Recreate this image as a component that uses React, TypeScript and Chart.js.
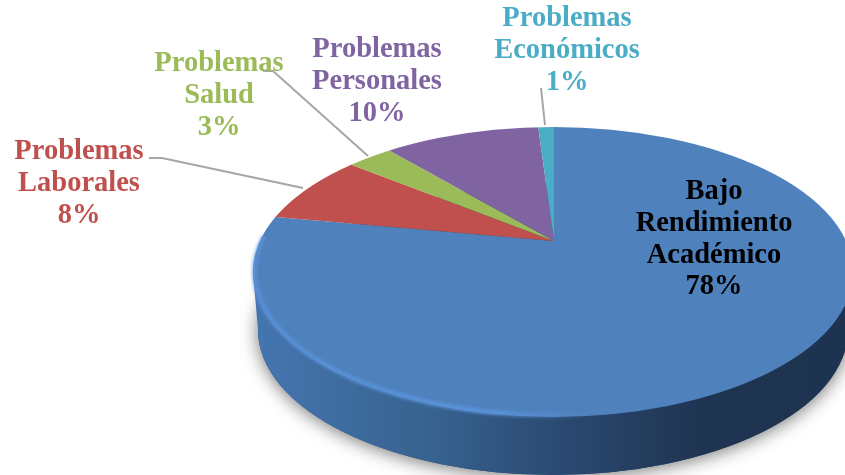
import React, { useEffect, useRef } from "react";
import { Chart, registerables } from "chart.js";

Chart.register(...registerables);

const categories = [
  "Bajo Rendimiento Académico",
  "Problemas Laborales",
  "Problemas Salud",
  "Problemas Personales",
  "Problemas Económicos",
];
const values = [78, 8, 3, 10, 1];
const sliceColors = ["#4f81bd", "#c0504d", "#9bbb59", "#8064a2", "#4bacc6"];
const textColors = ["#000000", "#c0504d", "#9bbb59", "#8064a2", "#4bacc6"];
const labelLines = [
  ["Bajo", "Rendimiento", "Académico"],
  ["Problemas", "Laborales"],
  ["Problemas", "Salud"],
  ["Problemas", "Personales"],
  ["Problemas", "Económicos"],
];
const labelCenterX = [714, 79, 219, 377, 567];
const labelFirstY = [192, 152, 64, 50, 19];
const leaderLines: number[][][] = [
  [],
  [[149, 158], [162, 158], [303, 188]],
  [[263, 71], [273, 71], [368, 156]],
  [],
  [[541, 88], [545, 125]],
];

const APEX = { x: 554, y: 241 };
const TOP = { x: 553, y: 272, rx: 300, ry: 145 };
const BOTTOM = { x: 553, y: 330, rx: 295, ry: 145 };
const SCALE_X = 1.7;
const SCALE_Y = SCALE_X / 2.2;
const LINE_H = 31.6;

const pie3d = {
  id: "pie3d",
  beforeDatasetsDraw(chart: any) {
    const ctx: CanvasRenderingContext2D = chart.ctx;
    const arc = chart.getDatasetMeta(0).data[0];

    // soft shadow around the foot of the disc
    ctx.save();
    ctx.shadowColor = "rgba(0,0,0,0.55)";
    ctx.shadowBlur = 18;
    ctx.shadowOffsetY = 2;
    ctx.fillStyle = "#2c4a73";
    ctx.beginPath();
    ctx.ellipse(BOTTOM.x, BOTTOM.y, BOTTOM.rx, BOTTOM.ry, 0, 0, Math.PI * 2);
    ctx.fill();
    ctx.restore();

    // side wall
    const wall = ctx.createLinearGradient(TOP.x - TOP.rx, 0, TOP.x + TOP.rx, 0);
    wall.addColorStop(0, "#4576b0");
    wall.addColorStop(0.3, "#37628f");
    wall.addColorStop(0.5, "#2b4b74");
    wall.addColorStop(0.75, "#1f3451");
    wall.addColorStop(1, "#1e3350");
    ctx.save();
    ctx.fillStyle = wall;
    ctx.beginPath();
    ctx.ellipse(BOTTOM.x, BOTTOM.y, BOTTOM.rx, BOTTOM.ry, 0, 0, Math.PI);
    ctx.lineTo(TOP.x - TOP.rx, TOP.y);
    ctx.lineTo(TOP.x + TOP.rx, TOP.y);
    ctx.closePath();
    ctx.fill();
    ctx.restore();

    // top face: the library's own arcs, seen in perspective
    ctx.save();
    ctx.beginPath();
    ctx.ellipse(TOP.x, TOP.y, TOP.rx, TOP.ry, 0, 0, Math.PI * 2);
    ctx.clip();
    ctx.translate(APEX.x, APEX.y);
    ctx.scale(SCALE_X, SCALE_Y);
    ctx.translate(-arc.x, -arc.y);
  },
  afterDatasetsDraw(chart: any) {
    const ctx: CanvasRenderingContext2D = chart.ctx;
    ctx.restore();

    // bevel highlight on the lower-left rim
    const rim = ctx.createLinearGradient(TOP.x - TOP.rx, 0, TOP.x + 40, 0);
    rim.addColorStop(0, "rgba(92,150,222,0.7)");
    rim.addColorStop(0.7, "rgba(92,150,222,0.85)");
    rim.addColorStop(1, "rgba(92,150,222,0)");
    ctx.save();
    ctx.filter = "blur(1.5px)";
    ctx.strokeStyle = rim;
    ctx.lineWidth = 5;
    ctx.beginPath();
    ctx.ellipse(TOP.x, TOP.y, TOP.rx - 1.5, TOP.ry - 1.5, 0, Math.PI * 0.42, Math.PI * 1.08);
    ctx.stroke();
    ctx.restore();

    // leader lines
    ctx.save();
    ctx.strokeStyle = "#a6a6a6";
    ctx.lineWidth = 2;
    leaderLines.forEach((pts) => {
      if (!pts.length) return;
      ctx.beginPath();
      pts.forEach(([x, y], i) => (i ? ctx.lineTo(x, y) : ctx.moveTo(x, y)));
      ctx.stroke();
    });
    ctx.restore();

    // labels
    ctx.save();
    ctx.font = 'bold 28.5px "Liberation Serif"';
    ctx.textAlign = "center";
    ctx.textBaseline = "middle";
    categories.forEach((_, i) => {
      ctx.fillStyle = textColors[i];
      const lines = [...labelLines[i], `${values[i]}%`];
      lines.forEach((line, j) => {
        ctx.fillText(line, labelCenterX[i], labelFirstY[i] + j * LINE_H);
      });
    });
    ctx.restore();
  },
};

export default function App() {
  const ref = useRef<HTMLCanvasElement | null>(null);

  useEffect(() => {
    if (!ref.current) return;
    const chart = new Chart(ref.current, {
      type: "pie",
      data: {
        labels: categories,
        datasets: [
          {
            data: values,
            backgroundColor: sliceColors,
            borderWidth: 0,
            clip: false,
          } as any,
        ],
      },
      options: {
        animation: false,
        responsive: false,
        rotation: 0,
        layout: { padding: 0 },
        plugins: { legend: { display: false }, tooltip: { enabled: false } },
      },
      plugins: [pie3d],
    });
    return () => chart.destroy();
  }, []);

  return (
    <div style={{ position: "absolute", left: 0, top: 0, width: 845, height: 475, overflow: "hidden", background: "#fff" }}>
      <canvas ref={ref} width={845} height={475} style={{ display: "block" }} />
    </div>
  );
}
